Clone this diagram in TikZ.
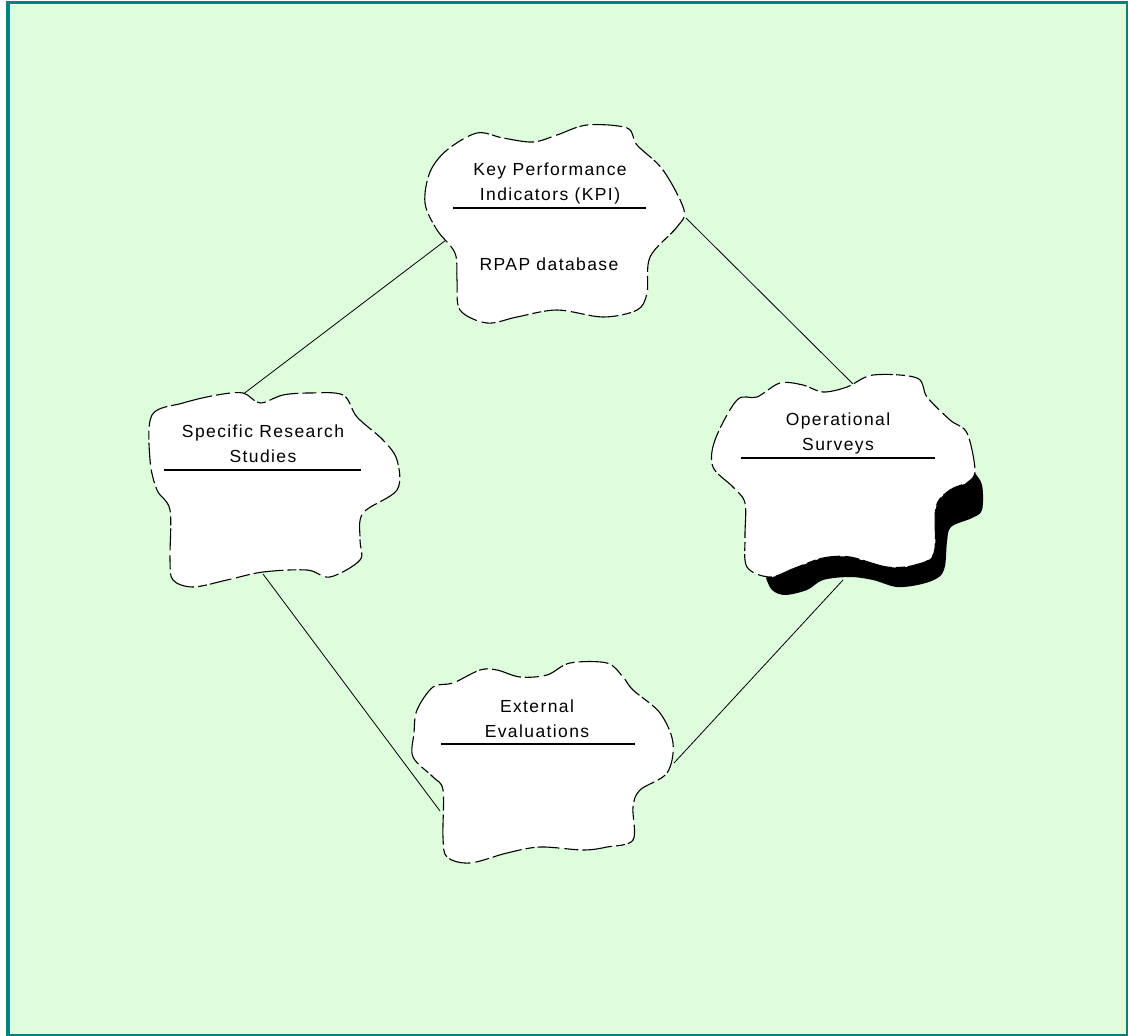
\documentclass[tikz,border=0pt]{standalone}
\usepackage{fontspec}
\setmainfont{Liberation Sans}[LetterSpace=8]
\definecolor{bggreen}{HTML}{DDFDDD}
\definecolor{frameteal}{HTML}{008080}
\begin{document}
\begin{tikzpicture}[x=1pt,y=-1pt,
  cloud/.style={fill=white,draw=black,line width=1.1pt,dash pattern=on 30pt off 4pt on 14pt off 5pt on 22pt off 3pt on 9pt off 4pt},
  shadowcloud/.style={fill=black,draw=none},
  conn/.style={draw=black,line width=0.8pt},
  rule/.style={draw=black,line width=1.1pt},
  lbl/.style={anchor=base,inner sep=0pt,font=\fontsize{17.5}{20}\selectfont}]
\useasboundingbox (0,0) rectangle (1128,1036);
\fill[white] (0,0) rectangle (1128,1036);
\fill[frameteal] (6,1) rectangle (1128,1036);
\fill[bggreen] (10,4) rectangle (1125.5,1033.5);

% connector end points
\coordinate (kpiSW) at (450,237);
\coordinate (kpiSE) at (686,218);
\coordinate (srsN) at (242,395);
\coordinate (srsS) at (263,574);
\coordinate (osN) at (853,384);
\coordinate (osS) at (843,580);
\coordinate (eeW) at (440,811);
\coordinate (eeE) at (674,763);

\draw[conn] (kpiSW) -- (srsN);
\draw[conn] (kpiSE) -- (osN);
\draw[conn] (srsS) -- (eeW);
\draw[conn] (osS) -- (eeE);

% KPI cloud
\draw[cloud] plot[smooth cycle,tension=0.55] coordinates {
 (425,203) (430,172) (447,150) (477,133) (503,138) (533,142) (557,135) (587,125)
 (627,128) (637,145) (663,170) (684,210) (677,227) (650,257) (647,293) (637,310)
 (603,317) (557,310) (517,317) (487,323) (460,310) (457,280) (455,253) (437,230)};

% Specific Research Studies cloud
\draw[cloud] plot[smooth cycle,tension=0.55] coordinates {
 (152,415) (183,403) (217,395) (243,393) (260,403) (283,395) (310,393) (343,395)
 (357,417) (383,440) (397,460) (397,490) (363,513) (360,540) (360,560) (330,577)
 (307,570) (263,572) (227,580) (193,587) (173,580) (170,560) (170,510) (157,490) (150,460)};

% Operational Surveys cloud with shadow
\fill[shadowcloud] plot[smooth,tension=0.55] coordinates {
 (962,450) (973,470) (982,485) (982,510) (972,518) (951,527) (947,542) (945,566)
 (939,577) (922,584) (897,587) (873,580) (850,577) (823,580) (807,590) (785,595)
 (772,590) (766,578)} -- (800,545) -- (900,520) -- (940,460) -- cycle;
\draw[cloud] plot[smooth cycle,tension=0.55] coordinates {
 (715,440) (737,400) (757,397) (780,383) (803,385) (823,392) (847,387) (873,375)
 (917,378) (927,397) (950,420) (967,433) (975,470) (968,482) (950,490) (936,507)
 (934,553) (915,565) (887,567) (850,557) (823,558) (795,568) (770,577) (747,567)
 (745,537) (745,503) (733,487) (713,467)};

% External Evaluations cloud
\draw[cloud] plot[smooth cycle,tension=0.55] coordinates {
 (414,733) (417,710) (433,687) (453,683) (480,670) (497,670) (520,677) (547,675)
 (570,663) (607,663) (623,677) (633,690) (660,713) (673,743) (667,773) (640,790)
 (633,807) (633,840) (607,847) (583,850) (540,847) (507,853) (470,863) (447,857)
 (443,837) (443,790) (433,777) (413,757)};

% texts and rules
\node[lbl] (kpiA) at (550,175) {Key Performance};
\node[lbl] (kpiB) at (550,200) {Indicators (KPI)};
\draw[rule] (453,208) -- (646,208);
\node[lbl] (kpiC) at (549,270) {RPAP database};

\node[lbl] (osA) at (838,425) {Operational};
\node[lbl] (osB) at (838,450) {Surveys};
\draw[rule] (741,458) -- (935,458);

\node[lbl] (srsA) at (263,437) {Specific Research};
\node[lbl] (srsB) at (263,462) {Studies};
\draw[rule] (164,470) -- (361,470);

\node[lbl] (eeA) at (537,712) {External};
\node[lbl] (eeB) at (537,737) {Evaluations};
\draw[rule] (441,744) -- (635,744);
\end{tikzpicture}
\end{document}
